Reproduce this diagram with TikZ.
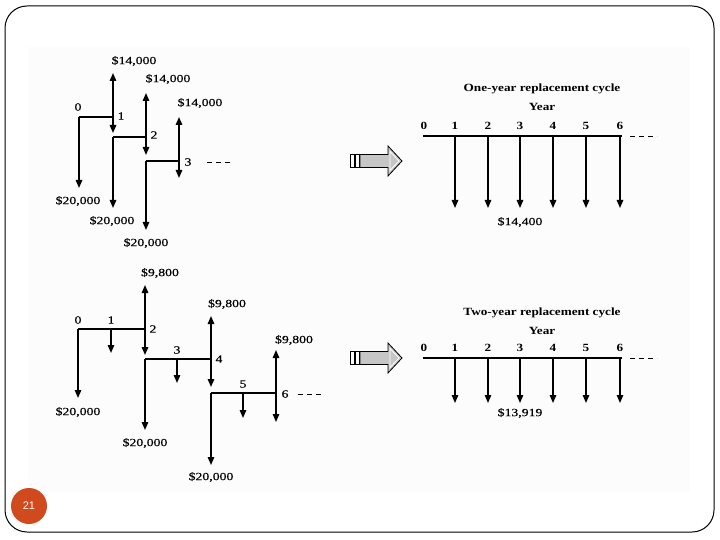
\documentclass[tikz,border=0pt]{standalone}
\usepackage{fontspec}
\setmainfont{Liberation Serif}
\newfontfamily\scan[FakeStretch=1.25,FakeBold=0.4]{Liberation Serif}
\newfontfamily\scanttl[FakeStretch=1.2]{Liberation Serif}
\newfontfamily\slidesans{Liberation Sans}
\usetikzlibrary{arrows.meta}
\definecolor{badge}{RGB}{208,74,30}
\definecolor{paper}{RGB}{252,252,252}
\begin{document}
\begin{tikzpicture}[x=1pt,y=-1pt,
  flow/.style={line width=1.4pt,-{Triangle[length=8pt,width=6.5pt]}},
  seg/.style={line width=1.1pt},
  more/.style={line width=0.9pt,dash pattern=on 5pt off 4pt},
  lbl/.style={font=\scan\fontsize{11}{13}\selectfont,inner sep=0pt},
  tick/.style={font=\scanttl\bfseries\fontsize{11}{13}\selectfont,inner sep=0pt},
  ttl/.style={font=\scanttl\bfseries\fontsize{11}{13}\selectfont,inner sep=0pt},
  hollow/.style={draw=black,line width=0.8pt}
]
\useasboundingbox (0,0) rectangle (720,540);
\fill[white] (0,0) rectangle (720,540);
\draw[line width=1pt,rounded corners=22pt] (5,6) rectangle (714,532);
\fill[paper] (28,47) rectangle (690,492);

% ---------- top left ----------
\coordinate (a0) at (79,117);
\coordinate (a1) at (113,117);
\coordinate (a1b) at (113,137);
\coordinate (a2) at (146,137);
\coordinate (a2b) at (146,161);
\coordinate (a3) at (179,161);
\draw[seg] (a0) -- (a1);
\draw[seg] (a1b) -- (a2);
\draw[seg] (a2b) -- (a3);
\coordinate (a0e) at (79,188);
\coordinate (a1u) at (113,73);
\coordinate (a1d) at (113,133);
\coordinate (a1e) at (113,208);
\coordinate (a2u) at (146,93);
\coordinate (a2d) at (146,155);
\coordinate (a2e) at (146,230);
\coordinate (a3u) at (179,117);
\coordinate (a3d) at (179,178);
\draw[flow] (a0) -- (a0e);
\draw[flow] (a1) -- (a1u);
\draw[flow] (a1) -- (a1d);
\draw[flow] (a1b) -- (a1e);
\draw[flow] (a2) -- (a2u);
\draw[flow] (a2) -- (a2d);
\draw[flow] (a2b) -- (a2e);
\draw[flow] (a3) -- (a3u);
\draw[flow] (a3) -- (a3d);
\node[lbl] (la0) at (78,107) {0};
\node[lbl] (la1) at (121,116) {1};
\node[lbl] (la2) at (154,135) {2};
\node[lbl] (la3) at (188,162) {3};
\node[lbl] (va0) at (78,201) {\$20,000};
\node[lbl] (va1) at (112,221) {\$20,000};
\node[lbl] (va2) at (146,243) {\$20,000};
\node[lbl] (wa1) at (134,61) {\$14,000};
\node[lbl] (wa2) at (168,79) {\$14,000};
\node[lbl] (wa3) at (200,103) {\$14,000};
\coordinate (ma1) at (207,162);
\coordinate (ma2) at (232,162);
\draw[more] (ma1) -- (ma2);

% ---------- bottom left ----------
\coordinate (b0) at (78,329);
\coordinate (b1) at (111,329);
\coordinate (b2) at (145,329);
\coordinate (b2b) at (145,359);
\coordinate (b3) at (177,359);
\coordinate (b4) at (211,359);
\coordinate (b4b) at (211,393);
\coordinate (b5) at (243,393);
\coordinate (b6) at (276,393);
\draw[seg] (b0) -- (b2);
\draw[seg] (b2b) -- (b4);
\draw[seg] (b4b) -- (b6);
\coordinate (b0e) at (78,398);
\coordinate (b1d) at (111,353);
\coordinate (b2u) at (145,285);
\coordinate (b2d) at (145,355);
\coordinate (b2e) at (145,430);
\coordinate (b3d) at (177,383);
\coordinate (b4u) at (211,316);
\coordinate (b4d) at (211,387);
\coordinate (b4e) at (211,465);
\coordinate (b5d) at (243,418);
\coordinate (b6u) at (276,350);
\coordinate (b6d) at (276,422);
\draw[flow] (b0) -- (b0e);
\draw[flow] (b1) -- (b1d);
\draw[flow] (b2) -- (b2u);
\draw[flow] (b2) -- (b2d);
\draw[flow] (b2b) -- (b2e);
\draw[flow] (b3) -- (b3d);
\draw[flow] (b4) -- (b4u);
\draw[flow] (b4) -- (b4d);
\draw[flow] (b4b) -- (b4e);
\draw[flow] (b5) -- (b5d);
\draw[flow] (b6) -- (b6u);
\draw[flow] (b6) -- (b6d);
\node[lbl] (lb0) at (78,320) {0};
\node[lbl] (lb1) at (111,320) {1};
\node[lbl] (lb2) at (153,329) {2};
\node[lbl] (lb3) at (177,350) {3};
\node[lbl] (lb4) at (219,359) {4};
\node[lbl] (lb5) at (243,384) {5};
\node[lbl] (lb6) at (285,394) {6};
\node[lbl] (vb0) at (78,412) {\$20,000};
\node[lbl] (vb2) at (145,443) {\$20,000};
\node[lbl] (vb4) at (211,477) {\$20,000};
\node[lbl] (wb2) at (160,273) {\$9,800};
\node[lbl] (wb4) at (227,304) {\$9,800};
\node[lbl] (wb6) at (294,340) {\$9,800};
\coordinate (mb1) at (298,394);
\coordinate (mb2) at (323,394);
\draw[more] (mb1) -- (mb2);

% ---------- hollow arrows ----------
\foreach \yy in {161,358}{
  \begin{scope}[shift={(0,\yy)}]
    \draw[hollow,fill=white] (350,-6.5) rectangle (354,6.5);
    \draw[hollow,fill=white] (355,-6.5) rectangle (359,6.5);
    \draw[hollow,fill=gray!45] (360,-6.5) -- (388,-6.5) -- (388,-15) -- (402,0)
      -- (388,15) -- (388,6.5) -- (360,6.5) -- cycle;
    \draw[white,line width=0.8pt] (390,-9.5) -- (399,0) -- (390,9.5) -- cycle;
  \end{scope}
}

% ---------- top right ----------
\node[ttl] (t1) at (542,89) {One-year replacement cycle};
\node[ttl] (y1) at (542,107) {Year};
\foreach \x [count=\i from 0] in {424,455,488,520,553,586,620}{
  \node[tick] (ta\i) at (\x,126) {\i};
}
\coordinate (r0) at (423,136);
\coordinate (r6) at (622,136);
\draw[seg] (r0) -- (r6);
\coordinate (rm1) at (630,136);
\coordinate (rm2) at (657,136);
\draw[more] (rm1) -- (rm2);
\foreach \x [count=\i] in {455,488,520,553,586,620}{
  \coordinate (ru\i) at (\x,136);
  \coordinate (rd\i) at (\x,208);
  \draw[flow] (ru\i) -- (rd\i);
}
\node[lbl] (ra) at (520,222) {\$14,400};

% ---------- bottom right ----------
\node[ttl] (t2) at (542,313) {Two-year replacement cycle};
\node[ttl] (y2) at (542,331) {Year};
\foreach \x [count=\i from 0] in {424,455,488,520,553,586,620}{
  \node[tick] (tb\i) at (\x,348) {\i};
}
\coordinate (s0) at (423,358);
\coordinate (s6) at (622,358);
\draw[seg] (s0) -- (s6);
\coordinate (sm1) at (630,358);
\coordinate (sm2) at (657,358);
\draw[more] (sm1) -- (sm2);
\foreach \x [count=\i] in {455,488,520,553,586,620}{
  \coordinate (su\i) at (\x,358);
  \coordinate (sd\i) at (\x,403);
  \draw[flow] (su\i) -- (sd\i);
}
\node[lbl] (sa) at (520,413) {\$13,919};

% ---------- page number ----------
\node[circle,fill=badge,minimum size=36pt,inner sep=0pt,text=white,
  font=\slidesans\fontsize{11}{13}\selectfont] (pg) at (29,506) {21};
\end{tikzpicture}
\end{document}
